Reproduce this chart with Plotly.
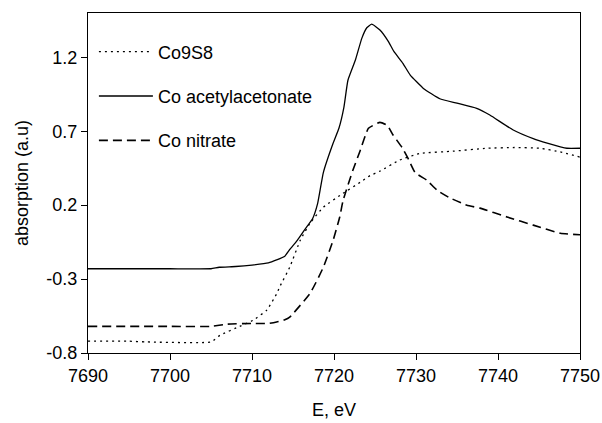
import plotly.graph_objects as go

# Co9S8 (dotted)
e_co9s8 = [7690, 7695, 7697, 7705, 7706.1, 7708.5, 7710.1, 7711.8, 7713, 7713.4, 7714.6,
           7715.9, 7717.1, 7718.7, 7721.1, 7723.2, 7724.4, 7725.6, 7728, 7730.5, 7734.5,
           7738.7, 7742, 7745.1, 7747.6, 7750]
a_co9s8 = [-0.72, -0.72, -0.725, -0.725, -0.68, -0.62, -0.58, -0.51, -0.40, -0.35, -0.22,
           -0.036, 0.08, 0.186, 0.28, 0.355, 0.40, 0.43, 0.505, 0.55, 0.565,
           0.585, 0.59, 0.585, 0.56, 0.525]

# Co acetylacetonate (solid)
e_acac = [7690, 7695, 7700, 7705, 7706, 7708, 7710, 7712, 7713, 7714, 7714.6, 7715.5,
          7716.5, 7717.4, 7718.0, 7718.7, 7719.9, 7720.6, 7721.2, 7721.7, 7722.6, 7723.4,
          7724.0, 7724.6, 7725.6, 7726.6, 7727.3, 7728.4, 7729.3, 7730.9, 7732.9, 7735,
          7737.4, 7739, 7741.8, 7744.3, 7746, 7748.4, 7750]
a_acac = [-0.23, -0.23, -0.23, -0.23, -0.22, -0.215, -0.205, -0.19, -0.17, -0.145, -0.10,
          -0.04, 0.04, 0.11, 0.21, 0.42, 0.62, 0.72, 0.86, 1.045, 1.18, 1.33,
          1.40, 1.425, 1.385, 1.31, 1.24, 1.16, 1.08, 0.99, 0.92, 0.89,
          0.855, 0.81, 0.71, 0.65, 0.62, 0.585, 0.585]

# Co nitrate (dashed)
e_nitr = [7690, 7700, 7705, 7707, 7710, 7712, 7713, 7714, 7714.6, 7717.1, 7718.7, 7719.9,
          7720.7, 7721.1, 7722.3, 7723.2, 7724.2, 7725.6, 7726.5, 7727.2, 7728.3, 7729.0,
          7729.9, 7731.3, 7732.6, 7734.1, 7736.2, 7737.8, 7741.1, 7744.3, 7747.6, 7750]
a_nitr = [-0.62, -0.62, -0.62, -0.605, -0.60, -0.60, -0.59, -0.575, -0.557, -0.395, -0.22, -0.036,
          0.12, 0.23, 0.436, 0.57, 0.72, 0.76, 0.74, 0.675, 0.59, 0.52,
          0.42, 0.37, 0.30, 0.25, 0.20, 0.18, 0.12, 0.065, 0.01, 0.0]

x_ticks = [7690, 7700, 7710, 7720, 7730, 7740, 7750]
y_ticks = [-0.8, -0.3, 0.2, 0.7, 1.2]

FONT = "Liberation Sans, Arial, sans-serif"

fig = go.Figure()
fig.add_trace(go.Scatter(x=e_co9s8, y=a_co9s8, mode="lines", name="Co9S8",
                         legendgroup="g1",
                         line=dict(color="black", width=1.3, dash="2px,4px",
                                   shape="spline", smoothing=0.4)))
fig.add_trace(go.Scatter(x=e_acac, y=a_acac, mode="lines", name="Co acetylacetonate",
                         legendgroup="g2",
                         line=dict(color="black", width=1.3, shape="spline", smoothing=0.4)))
fig.add_trace(go.Scatter(x=e_nitr, y=a_nitr, mode="lines", name="Co nitrate",
                         legendgroup="g3",
                         line=dict(color="black", width=1.6, dash="9px,5px",
                                   shape="spline", smoothing=0.4)))

fig.update_layout(
    width=602, height=423,
    margin=dict(l=88, r=22, t=13, b=70),
    paper_bgcolor="white", plot_bgcolor="white",
    font=dict(family=FONT, size=18, color="black"),
    showlegend=True,
    legend=dict(x=0.012, y=0.94, xanchor="left", yanchor="top",
                bgcolor="rgba(0,0,0,0)", borderwidth=0,
                font=dict(size=18), tracegroupgap=18, itemwidth=54,
                traceorder="grouped"),
    xaxis=dict(range=[7690, 7750], tickvals=x_ticks, ticks="outside", ticklen=6,
               tickcolor="black", showline=True, linecolor="black", linewidth=1,
               mirror=True, showgrid=False, zeroline=False, automargin=False,
               title=dict(text="E, eV", font=dict(size=18), standoff=18)),
    yaxis=dict(range=[-0.8, 1.5], tickvals=y_ticks, ticktext=["-0.8", "-0.3", "0.2", "0.7", "1.2"],
               ticks="outside", ticklen=6,
               tickcolor="black", showline=True, linecolor="black", linewidth=1,
               mirror=True, showgrid=False, zeroline=False, automargin=False,
               title=dict(text="absorption (a.u)", font=dict(size=18), standoff=13)),
)

fig.write_html("out.html")
